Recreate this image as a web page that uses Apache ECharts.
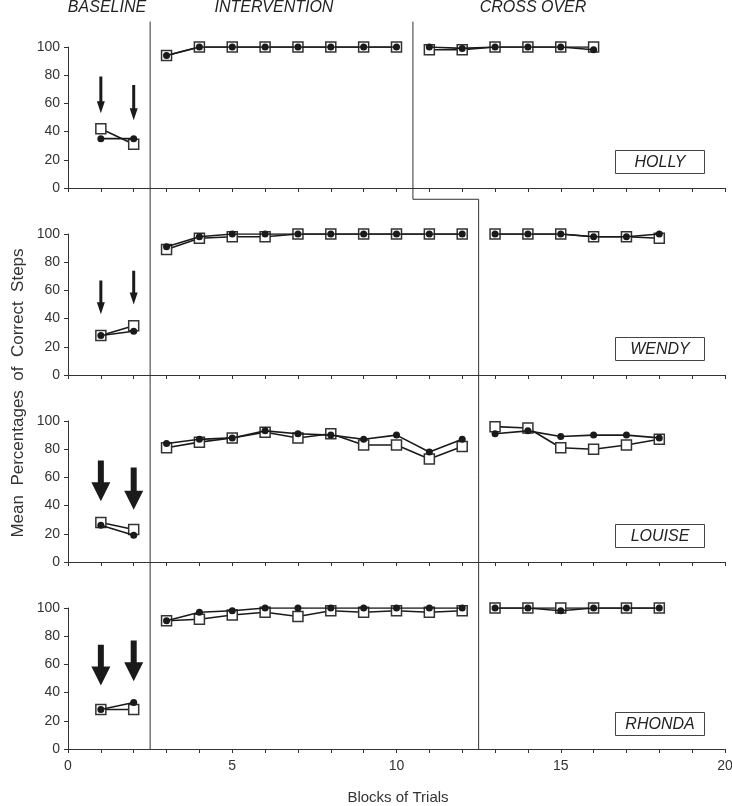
<!DOCTYPE html>
<html>
<head>
<meta charset="utf-8">
<script src="https://cdn.jsdelivr.net/npm/echarts@6/dist/echarts.min.js"></script>
<style>html,body{margin:0;padding:0;background:#fff}#c{width:732px;height:806px}</style>
</head>
<body>
<div id="c"></div>
<script>
// ---------- DATA ----------
const participants = ['HOLLY', 'WENDY', 'LOUISE', 'RHONDA'];
const phaseNames = ['BASELINE', 'INTERVENTION', 'CROSS OVER'];
const xTicks = [0, 5, 10, 15, 20];
const yTicks = [0, 20, 40, 60, 80, 100];

// block numbers for each phase per participant
const hollyBlocks = { base: [1, 2], inter: [3, 4, 5, 6, 7, 8, 9, 10], cross: [11, 12, 13, 14, 15, 16] };
const otherBlocks = { base: [1, 2], inter: [3, 4, 5, 6, 7, 8, 9, 10, 11, 12], cross: [13, 14, 15, 16, 17, 18] };

// open squares / filled circles
const hollySquareBase = [42, 31];
const hollyCircleBase = [35, 35];
const hollySquareInter = [94, 100, 100, 100, 100, 100, 100, 100];
const hollyCircleInter = [94, 100, 100, 100, 100, 100, 100, 100];
const hollySquareCross = [98, 98, 100, 100, 100, 100];
const hollyCircleCross = [100, 99, 100, 100, 100, 98];

const wendySquareBase = [28, 35];
const wendyCircleBase = [28, 31];
const wendySquareInter = [89, 97, 98, 98, 100, 100, 100, 100, 100, 100];
const wendyCircleInter = [91, 98, 100, 100, 100, 100, 100, 100, 100, 100];
const wendySquareCross = [100, 100, 100, 98, 98, 97];
const wendyCircleCross = [100, 100, 100, 98, 98, 100];

const louiseSquareBase = [28, 23];
const louiseCircleBase = [26, 19];
const louiseSquareInter = [81, 85, 88, 92, 88, 91, 83, 83, 73, 82];
const louiseCircleInter = [84, 87, 88, 93, 91, 90, 87, 90, 78, 87];
const louiseSquareCross = [96, 95, 81, 80, 83, 87];
const louiseCircleCross = [91, 93, 89, 90, 90, 88];

const rhondaSquareBase = [28, 28];
const rhondaCircleBase = [28, 33];
const rhondaSquareInter = [91, 92, 95, 97, 94, 98, 97, 98, 97, 98];
const rhondaCircleInter = [91, 97, 98, 100, 100, 100, 100, 100, 100, 100];
const rhondaSquareCross = [100, 100, 100, 100, 100, 100];
const rhondaCircleCross = [100, 100, 98, 100, 100, 100];

// arrows: [block, top value, tip value]
const hollyArrows = [[1, 79, 53], [2, 73, 48]];
const wendyArrows = [[1, 67, 43], [2, 74, 50]];
const louiseArrows = [[1, 72, 43], [2, 67, 37]];
const rhondaArrows = [[1, 74, 45], [2, 77, 48]];

// phase change lines (block positions)
const phaseLineA = 2.5;
const phaseLineB = [10.5, 12.5];

// ---------- BUILD ----------
const panels = [
  { blocks: hollyBlocks, sq: [hollySquareBase, hollySquareInter, hollySquareCross], ci: [hollyCircleBase, hollyCircleInter, hollyCircleCross], arrows: hollyArrows, thick: false },
  { blocks: otherBlocks, sq: [wendySquareBase, wendySquareInter, wendySquareCross], ci: [wendyCircleBase, wendyCircleInter, wendyCircleCross], arrows: wendyArrows, thick: false },
  { blocks: otherBlocks, sq: [louiseSquareBase, louiseSquareInter, louiseSquareCross], ci: [louiseCircleBase, louiseCircleInter, louiseCircleCross], arrows: louiseArrows, thick: true },
  { blocks: otherBlocks, sq: [rhondaSquareBase, rhondaSquareInter, rhondaSquareCross], ci: [rhondaCircleBase, rhondaCircleInter, rhondaCircleCross], arrows: rhondaArrows, thick: true }
];

function buildData(blocks, vals) {
  const keys = ['base', 'inter', 'cross'];
  const out = [];
  keys.forEach((k, i) => {
    if (i > 0) out.push([blocks[k][0] - 0.5, '-']);
    blocks[k].forEach((b, j) => out.push([b, vals[i][j]]));
  });
  return out;
}

const GRID_LEFT = 68, GRID_W = 657, GRID_H = 141;
const gridTops = [47, 234, 421, 608];
const FONT = 'Liberation Sans, Arial, sans-serif';
const AX = '#333';

const grids = [], xAxes = [], yAxes = [], series = [];
panels.forEach((p, i) => {
  grids.push({ left: GRID_LEFT, top: gridTops[i], width: GRID_W, height: GRID_H, outerBoundsMode: 'none', containLabel: false });
  xAxes.push({
    type: 'value', gridIndex: i, min: 0, max: 20, interval: 1,
    axisLine: { lineStyle: { color: AX, width: 1 } },
    axisTick: { show: true, inside: false, length: 4, lineStyle: { color: AX } },
    splitLine: { show: false },
    axisLabel: {
      show: i === 3, margin: 10, color: '#333', fontSize: 14, fontFamily: FONT,
      formatter: v => (xTicks.indexOf(v) >= 0 ? String(v) : '')
    }
  });
  yAxes.push({
    type: 'value', gridIndex: i, min: 0, max: 100, interval: 20,
    axisLine: { show: true, lineStyle: { color: AX, width: 1 } },
    axisTick: { show: true, inside: false, length: 4, lineStyle: { color: AX } },
    splitLine: { show: false },
    axisLabel: { margin: 8, color: '#333', fontSize: 14, fontFamily: FONT,
      formatter: v => (yTicks.indexOf(v) >= 0 ? String(v) : '') }
  });
  series.push({
    type: 'line', xAxisIndex: i, yAxisIndex: i, data: buildData(p.blocks, p.sq),
    symbol: 'rect', symbolSize: 10, connectNulls: false, animation: false,
    lineStyle: { color: '#1a1a1a', width: 1.6 },
    itemStyle: { color: '#fff', borderColor: '#333', borderWidth: 1.5 },
    z: 3
  });
  series.push({
    type: 'line', xAxisIndex: i, yAxisIndex: i, data: buildData(p.blocks, p.ci),
    symbol: 'circle', symbolSize: 7, connectNulls: false, animation: false,
    lineStyle: { color: '#1a1a1a', width: 1.6 },
    itemStyle: { color: '#1a1a1a', borderColor: '#1a1a1a', borderWidth: 0 },
    z: 4
  });
});

const chart = echarts.init(document.getElementById('c'), null, { renderer: 'canvas' });
chart.setOption({
  backgroundColor: '#fff',
  animation: false,
  grid: grids, xAxis: xAxes, yAxis: yAxes, series: series
});

function px(i, x, y) {
  return chart.convertToPixel({ xAxisIndex: i, yAxisIndex: i }, [x, y]);
}

const graphics = [];
// phase line A (baseline | intervention)
const a0 = px(0, phaseLineA, 118), a1 = px(3, phaseLineA, 0);
graphics.push({ type: 'line', shape: { x1: a0[0], y1: a0[1], x2: a1[0], y2: a1[1] }, style: { stroke: '#333', lineWidth: 1 }, z: 10 });
// phase line B (intervention | cross over), stepped
const b0 = px(0, phaseLineB[0], 118), b1 = px(0, phaseLineB[0], -8), b2 = px(0, phaseLineB[1], -8), b3 = px(3, phaseLineB[1], 0);
graphics.push({ type: 'polyline', shape: { points: [b0, b1, b2, b3] }, style: { stroke: '#333', lineWidth: 1, fill: null }, z: 10 });

// arrows
panels.forEach((p, i) => {
  const sw = p.thick ? 6 : 3, hw = p.thick ? 19 : 8, hl = p.thick ? 19 : 12;
  p.arrows.forEach(a => {
    const t = px(i, a[0], a[1]), tip = px(i, a[0], a[2]);
    const x = t[0], hy = tip[1] - hl;
    graphics.push({
      type: 'polygon', z: 10,
      shape: { points: [[x - sw / 2, t[1]], [x + sw / 2, t[1]], [x + sw / 2, hy], [x + hw / 2, hy], [x, tip[1]], [x - hw / 2, hy], [x - sw / 2, hy]] },
      style: { fill: '#1a1a1a' }
    });
  });
});

// participant name boxes
const boxBottoms = [173, 360, 547, 735];
participants.forEach((name, i) => {
  graphics.push({
    type: 'group', left: 615, top: boxBottoms[i] - 23, z: 10,
    children: [
      { type: 'rect', shape: { x: 0, y: 0, width: 89, height: 23 }, style: { fill: '#fff', stroke: '#444', lineWidth: 1 } },
      { type: 'text', x: 44.5, y: 12, style: { text: name, fill: '#222', font: 'italic 16px ' + FONT, textAlign: 'center', textVerticalAlign: 'middle' } }
    ]
  });
});

// phase headers
const headerCenters = [107, 274, 533];
phaseNames.forEach((n, i) => {
  graphics.push({ type: 'text', x: headerCenters[i], y: 8, z: 10,
    style: { text: n, fill: '#222', font: 'italic 16px ' + FONT, textAlign: 'center', textVerticalAlign: 'middle' } });
});

// axis titles
graphics.push({ type: 'text', x: 18, y: 393, rotation: Math.PI / 2, z: 10,
  style: { text: 'Mean  Percentages  of  Correct  Steps', fill: '#333', font: '17px ' + FONT, textAlign: 'center', textVerticalAlign: 'middle' } });
graphics.push({ type: 'text', x: 398, y: 798, z: 10,
  style: { text: 'Blocks of Trials', fill: '#333', font: '15px ' + FONT, textAlign: 'center', textVerticalAlign: 'middle' } });

chart.setOption({ graphic: graphics });
</script>
</body>
</html>
